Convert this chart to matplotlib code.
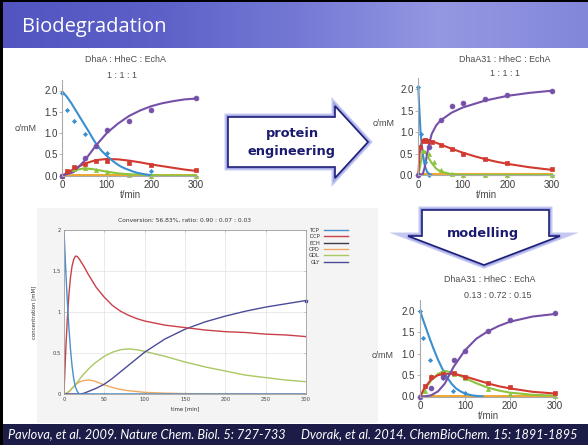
import numpy as np
import matplotlib
matplotlib.use("Agg")
import matplotlib.pyplot as plt
from matplotlib.patches import Polygon, Rectangle
from matplotlib.colors import LinearSegmentedColormap

# ---------------- data ----------------
# Top-left: DhaA : HheC : EchA  1:1:1  (fits)
tl_t_tcp = [0, 10, 20, 30, 40, 50, 60, 70, 80, 90, 100, 110, 120, 130, 140, 150, 160, 170, 180, 190, 200]
tl_tcp = [1.97, 1.85, 1.70, 1.53, 1.36, 1.19, 1.02, 0.84, 0.68, 0.56, 0.46, 0.37, 0.29, 0.22, 0.17, 0.13, 0.09, 0.06, 0.04, 0.02, 0.01]
tl_t = [0, 25, 50, 75, 100, 125, 150, 175, 200, 225, 250, 275, 300]
tl_gly = [0.0, 0.08, 0.35, 0.70, 1.00, 1.22, 1.40, 1.53, 1.63, 1.70, 1.75, 1.79, 1.81]
tl_dcp = [0.0, 0.15, 0.28, 0.36, 0.39, 0.38, 0.35, 0.31, 0.26, 0.22, 0.18, 0.14, 0.11]
tl_ech = [0.0, 0.12, 0.17, 0.14, 0.09, 0.05, 0.03, 0.02, 0.01, 0.0, 0.0, 0.0, 0.0]
tl_cpd = [0.0, 0.01, 0.01, 0.01, 0.01, 0.01, 0.01, 0.01, 0.01, 0.01, 0.01, 0.01, 0.01]
# Top-left measured points
tl_p_tcp_t = [0, 10, 25, 50, 100, 200]
tl_p_tcp = [1.95, 1.55, 1.28, 0.97, 0.53, 0.11]
tl_p_gly_t = [0, 50, 75, 100, 150, 200, 300]
tl_p_gly = [0.0, 0.41, 0.70, 1.07, 1.29, 1.54, 1.83]
tl_p_dcp_t = [0, 10, 25, 50, 75, 100, 150, 200, 300]
tl_p_dcp = [0.0, 0.10, 0.20, 0.28, 0.35, 0.35, 0.30, 0.25, 0.12]
tl_p_ech_t = [25, 50, 75, 100, 150, 200, 300]
tl_p_ech = [0.15, 0.18, 0.12, 0.08, 0.02, 0.0, 0.0]

# Top-right: DhaA31 : HheC : EchA  1:1:1
tr_t_tcp = [0, 2, 5, 10, 15, 20, 25, 30]
tr_tcp = [2.05, 1.60, 1.00, 0.50, 0.20, 0.07, 0.02, 0.0]
tr_t_dcp = [0, 3, 6, 10, 15, 20, 30, 50, 75, 100, 125, 150, 175, 200, 250, 300]
tr_dcp = [0.0, 0.50, 0.70, 0.80, 0.83, 0.82, 0.79, 0.71, 0.61, 0.52, 0.44, 0.37, 0.31, 0.26, 0.18, 0.12]
tr_t_ech = [0, 5, 10, 15, 20, 30, 40, 50, 75, 100, 150, 200, 300]
tr_ech = [0.0, 0.25, 0.50, 0.55, 0.45, 0.28, 0.15, 0.08, 0.02, 0.0, 0.0, 0.0, 0.0]
tr_t_gly = [0, 10, 15, 20, 25, 30, 40, 50, 75, 100, 150, 200, 250, 300]
tr_gly = [0.0, 0.02, 0.20, 0.50, 0.75, 0.95, 1.15, 1.27, 1.45, 1.57, 1.73, 1.84, 1.91, 1.96]
tr_t_cpd = [0, 300]
tr_cpd = [0.02, 0.02]
tr_p_tcp_t = [0, 5, 15, 25]
tr_p_tcp = [2.05, 0.95, 0.30, 0.0]
tr_p_dcp_t = [3, 10, 15, 20, 30, 50, 75, 100, 150, 200, 300]
tr_p_dcp = [0.65, 0.80, 0.82, 0.80, 0.77, 0.70, 0.60, 0.50, 0.37, 0.27, 0.13]
tr_p_ech_t = [10, 25, 35, 50, 75, 100, 150, 200, 300]
tr_p_ech = [0.55, 0.50, 0.30, 0.12, 0.02, 0.01, 0.0, 0.0, 0.0]
tr_p_gly_t = [0, 25, 50, 75, 100, 150, 200, 300]
tr_p_gly = [0.0, 0.65, 1.27, 1.60, 1.67, 1.77, 1.86, 1.95]

# Bottom-right: DhaA31 : HheC : EchA  0.13 : 0.72 : 0.15
br_t_tcp = [0, 10, 20, 30, 40, 50, 60, 70, 80, 90, 100, 110, 120, 130, 140]
br_tcp = [2.0, 1.70, 1.40, 1.12, 0.86, 0.64, 0.45, 0.30, 0.19, 0.12, 0.07, 0.04, 0.02, 0.01, 0.0]
br_t = [0, 10, 25, 40, 55, 75, 100, 125, 150, 175, 200, 250, 300]
br_gly = [0.0, 0.0, 0.03, 0.12, 0.30, 0.70, 1.08, 1.35, 1.52, 1.65, 1.75, 1.87, 1.93]
br_dcp = [0.0, 0.20, 0.40, 0.50, 0.53, 0.53, 0.47, 0.39, 0.31, 0.24, 0.19, 0.11, 0.07]
br_ech = [0.0, 0.15, 0.38, 0.53, 0.60, 0.55, 0.43, 0.31, 0.21, 0.14, 0.09, 0.04, 0.02]
br_cpd = [0.0, 0.01, 0.01, 0.01, 0.01, 0.01, 0.01, 0.01, 0.01, 0.01, 0.01, 0.01, 0.01]
br_p_tcp_t = [0, 6, 22, 52, 73, 100]
br_p_tcp = [2.0, 1.38, 0.86, 0.43, 0.14, 0.08]
br_p_gly_t = [0, 25, 50, 75, 100, 150, 200, 300]
br_p_gly = [0.0, 0.20, 0.45, 0.85, 1.07, 1.53, 1.80, 1.96]
br_p_dcp_t = [10, 25, 50, 75, 100, 150, 200, 300]
br_p_dcp = [0.25, 0.45, 0.52, 0.54, 0.46, 0.32, 0.22, 0.08]
br_p_ech_t = [10, 25, 50, 75, 100, 150, 200, 300]
br_p_ech = [0.12, 0.47, 0.58, 0.53, 0.43, 0.18, 0.07, 0.02]

# Simulation (bottom-left)
sim_t = [0, 2, 4, 6, 8, 10, 12, 14, 16, 18, 20, 25, 30, 35, 40, 50, 60, 70, 80, 90, 100,
         125, 150, 175, 200, 225, 250, 275, 300]
sim_tcp = [2.0, 1.55, 1.15, 0.82, 0.55, 0.34, 0.19, 0.09, 0.04, 0.01, 0.0, 0.0, 0.0, 0.0, 0.0,
           0.0, 0.0, 0.0, 0.0, 0.0, 0.0, 0.0, 0.0, 0.0, 0.0, 0.0, 0.0, 0.0, 0.0]
sim_dcp = [0.0, 0.50, 0.90, 1.20, 1.42, 1.56, 1.64, 1.68, 1.68, 1.66, 1.63, 1.55, 1.46, 1.38, 1.30,
           1.18, 1.08, 1.01, 0.96, 0.92, 0.89, 0.84, 0.81, 0.78, 0.76, 0.75, 0.73, 0.72, 0.70]
sim_ech = [0.0] * 29
sim_cpd = [0.0, 0.005, 0.015, 0.03, 0.045, 0.07, 0.09, 0.11, 0.125, 0.14, 0.15, 0.165, 0.17, 0.165, 0.15,
           0.11, 0.08, 0.055, 0.04, 0.03, 0.02, 0.01, 0.005, 0.003, 0.002, 0.001, 0.0, 0.0, 0.0]
sim_gdl = [0.0, 0.005, 0.015, 0.03, 0.045, 0.07, 0.09, 0.11, 0.14, 0.16, 0.19, 0.25, 0.30, 0.35, 0.39,
           0.46, 0.51, 0.54, 0.55, 0.54, 0.52, 0.46, 0.39, 0.33, 0.28, 0.23, 0.20, 0.17, 0.15]
sim_gly = [0.0, 0.0, 0.0, 0.0, 0.0, 0.0, 0.0, 0.0, 0.0, 0.0, 0.0, 0.01, 0.03, 0.05, 0.07,
           0.12, 0.19, 0.27, 0.35, 0.43, 0.51, 0.67, 0.79, 0.88, 0.95, 1.01, 1.06, 1.10, 1.14]
sim_names = ["TCP", "DCP", "ECH", "CPD", "GDL", "GLY"]

x_ticks = [0, 100, 200, 300]
y_ticks = [0.0, 0.5, 1.0, 1.5, 2.0]
y_ticklabels = ["0.0", "0.5", "1.0", "1.5", "2.0"]
sim_xticks = [0, 50, 100, 150, 200, 250, 300]
sim_yticks = [0, 0.5, 1, 1.5, 2]
sim_yticklabels = ["0", "0.5", "1", "1.5", "2"]

cite1 = "Pavlova, et al. 2009. Nature Chem. Biol. 5: 727-733"
cite2 = "Dvorak, et al. 2014. ChemBioChem. 15: 1891-1895"

# ---------------- figure ----------------
W, H = 588, 445
fig = plt.figure(figsize=(W / 100, H / 100), dpi=100)
fig.patch.set_facecolor("white")

bg = fig.add_axes([0, 0, 1, 1])
bg.set_xlim(0, W)
bg.set_ylim(H, 0)
bg.axis("off")

PF = "Liberation Sans"
C_BLUE = "#3a8fd0"
C_RED = "#d23a30"
C_GREEN = "#8cc43e"
C_PURPLE = "#7650a8"
C_ORANGE = "#f0a830"
TXT = "#4a4a4a"


def px_axes(x0, x300, y0, y2, xlim, ylim):
    sx = (x300 - x0) / 300.0
    sy = (y0 - y2) / 2.0
    left = x0 + xlim[0] * sx
    right = x0 + xlim[1] * sx
    bottom = y0 - ylim[0] * sy
    top = y0 - ylim[1] * sy
    ax = fig.add_axes([left / W, 1 - bottom / H, (right - left) / W, (bottom - top) / H])
    ax.set_xlim(*xlim)
    ax.set_ylim(*ylim)
    return ax


def style_exp(ax, title1, title2, t1y, t2y, tcx, t2cx, ylab_xy):
    ax.patch.set_alpha(0)
    for s in ["top", "right"]:
        ax.spines[s].set_visible(False)
    for s in ["left", "bottom"]:
        ax.spines[s].set_color("#aaaaaa")
        ax.spines[s].set_linewidth(0.8)
    ax.set_xticks(x_ticks)
    ax.set_yticks(y_ticks)
    ax.set_yticklabels(y_ticklabels)
    ax.tick_params(labelsize=7, colors="#aaaaaa", labelcolor="#3a3a3a", length=2, width=0.6, pad=1.5)
    for lab in ax.get_xticklabels() + ax.get_yticklabels():
        lab.set_fontfamily(PF)
    ax.set_xlabel("t/min", fontsize=7, family=PF, color=TXT, labelpad=0)
    fig.text(tcx / W, 1 - t1y / H, title1, fontsize=6.4, family=PF, color=TXT, ha="center", va="center")
    fig.text(t2cx / W, 1 - t2y / H, title2, fontsize=6.4, family=PF, color=TXT, ha="center", va="center")
    fig.text(ylab_xy[0] / W, 1 - ylab_xy[1] / H, "c/mM", fontsize=6.5, family=PF, color=TXT, ha="right", va="center")


def draw_exp(ax, lines, points):
    for (t, v, c) in lines:
        ax.plot(t, v, color=c, lw=1.5, clip_on=False, solid_capstyle="round")
    for (t, v, c, m, ms) in points:
        ax.plot(t, v, ls="none", marker=m, color=c, ms=ms, clip_on=False, mec=c, mew=0.5)


MS = {"^": 3.0, "s": 2.9, "D": 2.1, "o": 3.5}


def pts(t, v, c, m):
    return (t, v, c, m, MS[m])


# ---- top-left ----
ax1 = px_axes(62.5, 195.5, 175.5, 90.5, (0, 305), (0, 2.25))
draw_exp(ax1,
         [(tl_t, tl_cpd, C_ORANGE), (tl_t, tl_ech, C_GREEN), (tl_t, tl_dcp, C_RED),
          (tl_t_tcp, tl_tcp, C_BLUE), (tl_t, tl_gly, C_PURPLE)],
         [pts(tl_p_ech_t, tl_p_ech, C_GREEN, "^"), pts(tl_p_dcp_t, tl_p_dcp, C_RED, "s"),
          pts(tl_p_tcp_t, tl_p_tcp, C_BLUE, "D"), pts(tl_p_gly_t, tl_p_gly, C_PURPLE, "o")])
style_exp(ax1, "DhaA : HheC : EchA", "1 : 1 : 1", 59.5, 75, 125, 122, (37, 128))

# ---- top-right ----
ax2 = px_axes(418.3, 551.7, 175, 89, (0, 305), (0, 2.25))
draw_exp(ax2,
         [(tr_t_cpd, tr_cpd, C_ORANGE), (tr_t_ech, tr_ech, C_GREEN), (tr_t_dcp, tr_dcp, C_RED),
          (tr_t_tcp, tr_tcp, C_BLUE), (tr_t_gly, tr_gly, C_PURPLE)],
         [pts(tr_p_ech_t, tr_p_ech, C_GREEN, "^"), pts(tr_p_dcp_t, tr_p_dcp, C_RED, "s"),
          pts(tr_p_tcp_t, tr_p_tcp, C_BLUE, "D"), pts(tr_p_gly_t, tr_p_gly, C_PURPLE, "o")])
style_exp(ax2, "DhaA31 : HheC : EchA", "1 : 1 : 1", 59, 74, 505, 505, (395, 123))

# ---- bottom-right ----
ax3 = px_axes(420, 555, 396.5, 311, (0, 305), (0, 2.25))
draw_exp(ax3,
         [(br_t, br_cpd, C_ORANGE), (br_t, br_ech, C_GREEN), (br_t, br_dcp, C_RED),
          (br_t_tcp, br_tcp, C_BLUE), (br_t, br_gly, C_PURPLE)],
         [pts(br_p_ech_t, br_p_ech, C_GREEN, "^"), pts(br_p_dcp_t, br_p_dcp, C_RED, "s"),
          pts(br_p_tcp_t, br_p_tcp, C_BLUE, "D"), pts(br_p_gly_t, br_p_gly, C_PURPLE, "o")])
style_exp(ax3, "DhaA31 : HheC : EchA", "0.13 : 0.72 : 0.15", 280, 295, 490, 498, (394, 355))

# ---- simulation screenshot (bottom-left) ----
bg.add_patch(Rectangle((37, 208), 341, 215, facecolor="#f4f4f4", edgecolor="none", zorder=1))
ax4 = fig.add_axes([64 / W, 1 - 394 / H, (306 - 64) / W, (394 - 230) / H])
ax4.set_facecolor("white")
sim_cols = ["#4a8ed0", "#c8404a", "#3c3c48", "#f2a860", "#a9c865", "#4a4c98"]
sim_vals = [sim_tcp, sim_dcp, sim_ech, sim_cpd, sim_gdl, sim_gly]
order = [2, 3, 4, 5, 1, 0]
handles = {}
for i in order:
    (h,) = ax4.plot(sim_t, sim_vals[i], color=sim_cols[i], lw=1.0, label=sim_names[i])
    handles[i] = h
ax4.plot([sim_t[-1]], [sim_gly[-1]], marker="s", ms=2, color=sim_cols[5], clip_on=False)
ax4.set_xlim(0, 300)
ax4.set_ylim(0, 2)
ax4.set_xticks(sim_xticks)
ax4.set_yticks(sim_yticks)
ax4.set_yticklabels(sim_yticklabels)
ax4.grid(True, color="#e2e2e2", lw=0.5)
ax4.tick_params(labelsize=3.8, length=1.5, width=0.4, colors="#999999", labelcolor="#444444", pad=2,
                direction="in", top=True, right=True)
for s in ax4.spines.values():
    s.set_color("#a0a0a0")
    s.set_linewidth(0.6)
ax4.set_title("Conversion: 56.83%, ratio: 0.90 : 0.07 : 0.03", fontsize=4.3, color="#333333", pad=6)
ax4.set_xlabel("time [min]", fontsize=3.9, color="#333333", labelpad=3)
ax4.set_ylabel("concentration [mM]", fontsize=3.9, color="#333333", labelpad=12)
leg = ax4.legend([handles[i] for i in range(6)], sim_names, loc="upper left",
                 bbox_to_anchor=(309 / W, 1 - 228 / H), bbox_transform=fig.transFigure,
                 frameon=False, fontsize=3.8, markerfirst=False, handlelength=4.5,
                 labelspacing=0.25, borderaxespad=0, borderpad=0, handletextpad=0.8)
for tx in leg.get_texts():
    tx.set_color("#333333")

# ---- overlay: arrows, title bar, footer ----
fg = fig.add_axes([0, 0, 1, 1])
fg.set_xlim(0, W)
fg.set_ylim(H, 0)
fg.axis("off")
fg.patch.set_alpha(0)

arrow1 = [(228, 117), (335, 117), (335, 106), (368, 142), (335, 178), (335, 167), (228, 167)]
arrow2 = [(422, 210), (549, 210), (549, 236), (560, 236), (484, 265), (408, 236), (422, 236)]
for poly in (arrow1, arrow2):
    fg.add_patch(Polygon(poly, closed=True, facecolor="white", edgecolor="#c4c8f0", lw=5, joinstyle="miter", zorder=2))
    fg.add_patch(Polygon(poly, closed=True, facecolor="white", edgecolor="#9ea4e4", lw=2.8, joinstyle="miter", zorder=2))
    fg.add_patch(Polygon(poly, closed=True, facecolor="white", edgecolor="#1e1e78", lw=1.2, joinstyle="miter", zorder=3))
NAVY = "#1a1a6e"
fg.text(292, 133, "protein", fontsize=9.3, fontweight="bold", family="DejaVu Sans", color=NAVY,
        ha="center", va="center", zorder=4)
fg.text(292, 151, "engineering", fontsize=9.3, fontweight="bold", family="DejaVu Sans", color=NAVY,
        ha="center", va="center", zorder=4)
fg.text(483, 233, "modelling", fontsize=9.3, fontweight="bold", family="DejaVu Sans", color=NAVY,
        ha="center", va="center", zorder=4)

grad = np.linspace(0, 1, 256)[None, :]
cm = LinearSegmentedColormap.from_list("tb", ["#5255c0", "#5b5fc6", "#7478d4", "#9498e2", "#8387da"])
fg.imshow(grad, cmap=cm, extent=[0, W, 48, 0], aspect="auto", zorder=1)
fg.text(22, 27, "Biodegradation", fontsize=14.5, family="Open Sans", color="white", ha="left", va="center", zorder=5)

fg.add_patch(Rectangle((0, 424), W, H - 424, facecolor="#1c1c48", edgecolor="none", zorder=6))
t1 = fg.text(8, 434.5, cite1, fontsize=8, family="Lato", style="italic", color="white",
             ha="left", va="center", zorder=7)
t2 = fg.text(301, 434.5, cite2, fontsize=8, family="Lato", style="italic", color="white",
             ha="left", va="center", zorder=7)
fig.canvas.draw()
r = fig.canvas.get_renderer()
w1 = t1.get_window_extent(r).width
w2 = t2.get_window_extent(r).width
t1.set_fontsize(8 * 279.0 / w1)
t2.set_fontsize(8 * 278.0 / w2)

fg.add_patch(Rectangle((0, 0), 3, H, facecolor="black", edgecolor="none", zorder=8))
fg.add_patch(Rectangle((0, 0), W, 2, facecolor="black", edgecolor="none", zorder=8))
fg.set_xlim(0, W)
fg.set_ylim(H, 0)

fig.savefig("out.png", dpi=100)
